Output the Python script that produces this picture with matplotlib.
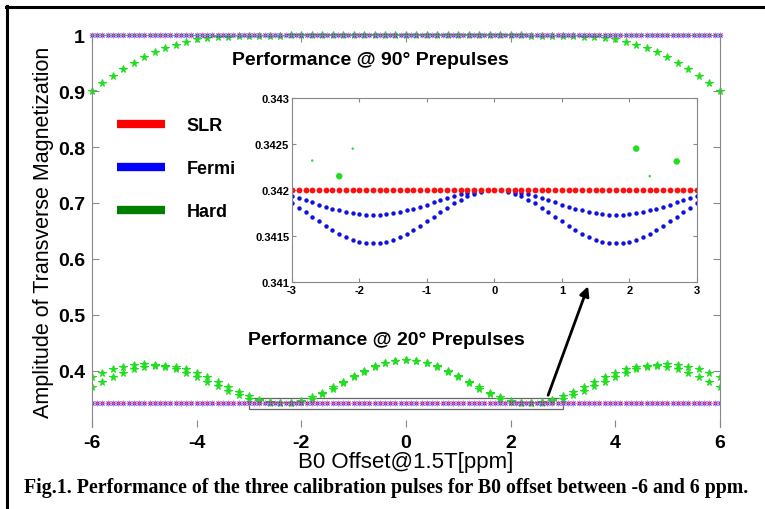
import numpy as np
import matplotlib
matplotlib.use("Agg")
import matplotlib.pyplot as plt
from matplotlib.lines import Line2D
from matplotlib.patches import Rectangle

plt.rcParams['font.family'] = ['Liberation Sans', 'DejaVu Sans']

# main plot: B0 offset grid
x_fine = np.linspace(-6, 6, 121)     # SLR / Fermi samples
x_coarse = np.linspace(-6, 6, 61)    # Hard pulse samples

# SLR and Fermi look flat at this scale
slr_90 = np.full(121, 1.0)
fermi_90 = np.full(121, 1.0)
slr_20 = np.full(121, 0.342)
fermi_20 = np.full(121, 0.342)

# Hard pulse, 90 deg prepulse
hard_90 = [0.900, 0.914, 0.927, 0.939, 0.950, 0.960, 0.969, 0.977, 0.983, 0.988,
           0.992, 0.994, 0.996, 0.997, 0.998, 0.998, 0.999, 0.999, 0.999] \
    + [1.0] * 23 + \
    [0.999, 0.999, 0.999, 0.998, 0.998, 0.997, 0.996, 0.994, 0.992, 0.988,
     0.983, 0.977, 0.969, 0.960, 0.950, 0.939, 0.927, 0.914, 0.900]

# Hard pulse, 20 deg prepulse (two traces)
hard_20a = [0.3894, 0.3969, 0.4032, 0.4080, 0.4110, 0.4120, 0.4110, 0.4080, 0.4032, 0.3969,
            0.3894, 0.3812, 0.3728, 0.3646, 0.3571, 0.3508, 0.3460, 0.3430, 0.3420, 0.3433,
            0.3472, 0.3534, 0.3615, 0.3709, 0.3810, 0.3911, 0.4005, 0.4086, 0.4148, 0.4187,
            0.4200,
            0.4187, 0.4148, 0.4086, 0.4005, 0.3911, 0.3810, 0.3709, 0.3615, 0.3534, 0.3472,
            0.3433, 0.3420, 0.3430, 0.3460, 0.3508, 0.3571, 0.3646, 0.3728, 0.3812, 0.3894,
            0.3969, 0.4032, 0.4080, 0.4110, 0.4120, 0.4110, 0.4080, 0.4032, 0.3969, 0.3894]
hard_20b = [0.3716, 0.3804, 0.3890, 0.3967, 0.4030, 0.4074, 0.4097, 0.4097, 0.4074, 0.4030,
            0.3967, 0.3890, 0.3804, 0.3716, 0.3630, 0.3553, 0.3490, 0.3446, 0.3423, 0.3424,
            0.3452, 0.3508, 0.3585, 0.3679, 0.3783, 0.3889, 0.3989, 0.4076, 0.4143, 0.4186,
            0.4200,
            0.4186, 0.4143, 0.4076, 0.3989, 0.3889, 0.3783, 0.3679, 0.3585, 0.3508, 0.3452,
            0.3424, 0.3423, 0.3446, 0.3490, 0.3553, 0.3630, 0.3716, 0.3804, 0.3890, 0.3967,
            0.4030, 0.4074, 0.4097, 0.4097, 0.4074, 0.4030, 0.3967, 0.3890, 0.3804, 0.3716]

# inset (zoom of the 20 deg case, -3..3 ppm)
x_inset = np.linspace(-3, 3, 61)
slr_inset = np.full(61, 0.342)
fermi_inset_a = [0.341933, 0.341911, 0.341888, 0.341865, 0.341842, 0.341819, 0.341798, 0.341778,
                 0.341762, 0.341748, 0.341738, 0.341732, 0.341730, 0.341732, 0.341738, 0.341748,
                 0.341762, 0.341778, 0.341798, 0.341819, 0.341842, 0.341865, 0.341888, 0.341911,
                 0.341933, 0.341952, 0.341968, 0.341982, 0.341992, 0.341998, 0.342000, 0.341998,
                 0.341992, 0.341982, 0.341968, 0.341952, 0.341933, 0.341911, 0.341888, 0.341865,
                 0.341842, 0.341819, 0.341798, 0.341778, 0.341762, 0.341748, 0.341738, 0.341732,
                 0.341730, 0.341732, 0.341738, 0.341748, 0.341762, 0.341778, 0.341798, 0.341819,
                 0.341842, 0.341865, 0.341888, 0.341911, 0.341933]
fermi_inset_b = [0.341855, 0.341809, 0.341760, 0.341710, 0.341660, 0.341611, 0.341565, 0.341524,
                 0.341488, 0.341459, 0.341438, 0.341424, 0.341420, 0.341424, 0.341438, 0.341459,
                 0.341488, 0.341524, 0.341565, 0.341611, 0.341660, 0.341710, 0.341760, 0.341809,
                 0.341855, 0.341896, 0.341932, 0.341961, 0.341982, 0.341996, 0.342000, 0.341996,
                 0.341982, 0.341961, 0.341932, 0.341896, 0.341855, 0.341809, 0.341760, 0.341710,
                 0.341660, 0.341611, 0.341565, 0.341524, 0.341488, 0.341459, 0.341438, 0.341424,
                 0.341420, 0.341424, 0.341438, 0.341459, 0.341488, 0.341524, 0.341565, 0.341611,
                 0.341660, 0.341710, 0.341760, 0.341809, 0.341855]
hard_inset_x = [-2.7, -2.3, -2.1, 2.1, 2.3, 2.7]
hard_inset_y = [0.34232, 0.34215, 0.34245, 0.34245, 0.34215, 0.34231]

x_ticks = [-6, -4, -2, 0, 2, 4, 6]
y_ticks = [0.4, 0.5, 0.6, 0.7, 0.8, 0.9, 1.0]
y_ticklabels = ['0.4', '0.5', '0.6', '0.7', '0.8', '0.9', '1']
inset_yticks = [0.341, 0.3415, 0.342, 0.3425, 0.343]
inset_yticklabels = ['0.341', '0.3415', '0.342', '0.3425', '0.343']

GREEN = '#22dd22'
AXCOL = '#888888'

fig = plt.figure(figsize=(7.65, 5.1), dpi=100)
ax = fig.add_axes([0.1203, 0.1608, 0.8206, 0.7686])

# 90 deg
ax.plot(x_coarse, hard_90, '*', color=GREEN, ms=5.5, mew=0.8, clip_on=False)
ax.plot(x_fine, fermi_90, 'x', color='#3030ff', ms=3.5, mew=0.8, clip_on=False)
ax.plot(x_fine, slr_90, '+', color='#ff5080', ms=4.5, mew=0.8, alpha=0.8, clip_on=False)
# 20 deg
ax.plot(x_coarse, hard_20a, '*', color=GREEN, ms=5.5, mew=0.8)
ax.plot(x_coarse, hard_20b, '*', color=GREEN, ms=5.5, mew=0.8)
ax.plot(x_fine, fermi_20, 'x', color='#3030ff', ms=3.5, mew=0.8)
ax.plot(x_fine, slr_20, '+', color='#ff5080', ms=4.5, mew=0.8, alpha=0.8)

ax.add_patch(Rectangle((-3, 0.332), 6, 0.020, fill=False, edgecolor='#666666', lw=0.9))
ax.annotate('', xy=(3.5, 0.556), xytext=(2.7, 0.352),
            arrowprops=dict(arrowstyle='-|>', color='black', lw=2, mutation_scale=14))

ax.set_xlim(-6, 6)
ax.set_ylim(0.3, 1.0)
ax.set_xticks(x_ticks)
ax.set_xticklabels([str(t) for t in x_ticks], fontsize=14, fontweight='bold')
ax.set_yticks(y_ticks)
ax.set_yticklabels(y_ticklabels, fontsize=14, fontweight='bold')
ax.tick_params(direction='in', top=True, right=True, length=5, color=AXCOL, pad=5)
for side in ['left', 'right', 'top']:
    ax.spines[side].set_color(AXCOL)
ax.spines['bottom'].set_visible(False)
ax.set_xlabel('B0 Offset@1.5T[ppm]', fontsize=16, labelpad=0)
ax.set_ylabel('Amplitude of Transverse Magnetization', fontsize=15.5, labelpad=3)

ax.text(-0.67, 0.957, 'Performance @ 90° Prepulses', fontsize=14, fontweight='bold',
        ha='center', va='center')
ax.text(-0.38, 0.457, 'Performance @ 20° Prepulses', fontsize=14, fontweight='bold',
        ha='center', va='center')

handles = [Line2D([], [], color='red', lw=6, solid_capstyle='butt'),
           Line2D([], [], color='blue', lw=6, solid_capstyle='butt'),
           Line2D([], [], color='#007f00', lw=6, solid_capstyle='butt')]
leg = ax.legend(handles, ['SLR', 'Fermi', 'Hard'], loc='upper left',
                bbox_to_anchor=(0.0398, 0.791), frameon=False, handlelength=2.67,
                handletextpad=1.17, labelspacing=1.45, borderpad=0, borderaxespad=0,
                prop={'size': 13, 'weight': 'bold'})

# inset
axin = fig.add_axes([0.3817, 0.4451, 0.5294, 0.3608])
axin.plot(x_inset, fermi_inset_a, 'o', color='#1010e0', ms=3.2, mew=0)
axin.plot(x_inset, fermi_inset_b, 'o', color='#1010e0', ms=3.2, mew=0)
axin.plot(x_inset, slr_inset, 'o', color='#ff1010', ms=4.2, mew=0)
axin.scatter(hard_inset_x, hard_inset_y, s=[3, 22, 3, 22, 3, 22], color=GREEN, lw=0)
axin.set_xlim(-3, 3)
axin.set_ylim(0.341, 0.343)
axin.set_xticks([-3, -2, -1, 0, 1, 2, 3])
axin.set_xticklabels(['-3', '-2', '-1', '0', '1', '2', '3'], fontsize=8, fontweight='bold')
axin.set_yticks(inset_yticks)
axin.set_yticklabels(inset_yticklabels, fontsize=8, fontweight='bold')
axin.tick_params(direction='in', top=True, right=True, length=3, color=AXCOL, pad=2)
for side in axin.spines:
    axin.spines[side].set_color(AXCOL)

# frame and caption
fig.add_artist(Line2D([0.009, 0.009], [0.0, 0.986], color='black', lw=2.2))
fig.add_artist(Line2D([0.008, 1.0], [0.985, 0.985], color='black', lw=2.2))
fig.text(0.505, 0.043, 'Fig.1. Performance of the three calibration pulses for B0 offset between -6 and 6 ppm.',
         ha='center', va='center', fontsize=14.3, fontweight='bold',
         family=['Liberation Serif', 'DejaVu Serif'])

fig.savefig('out.png', dpi=100)
